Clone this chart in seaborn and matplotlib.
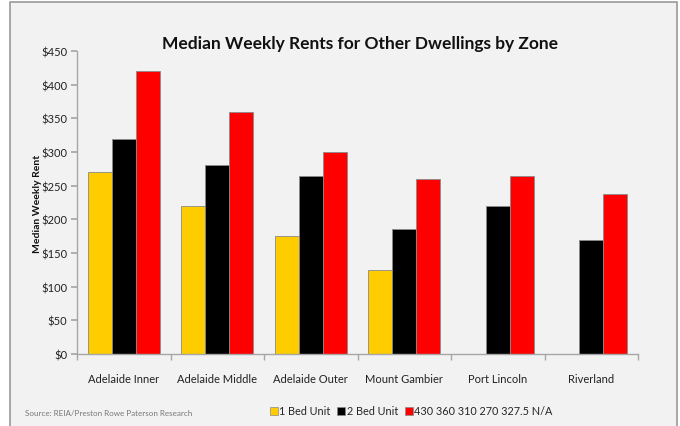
import numpy as np
import pandas as pd
import matplotlib
matplotlib.use("Agg")
import matplotlib.pyplot as plt
import seaborn as sns
from matplotlib.patches import Rectangle
from matplotlib.lines import Line2D
from matplotlib.ticker import MultipleLocator, FuncFormatter

zones = ["Adelaide Inner", "Adelaide Middle", "Adelaide Outer", "Mount Gambier", "Port Lincoln", "Riverland"]
series = ["1 Bed Unit", "2 Bed Unit", "430 360 310 270 327.5 N/A"]
one_bed = [270, 220, 175, 125, np.nan, np.nan]
two_bed = [320, 280, 265, 185, 220, 170]
three_bed = [420, 360, 300, 260, 265, 237]
colors = ["#FFCC00", "#000000", "#FF0000"]

rows = []
for s, vals in zip(series, [one_bed, two_bed, three_bed]):
    for z, v in zip(zones, vals):
        rows.append({"Zone": z, "Series": s, "Rent": v})
df = pd.DataFrame(rows)

sns.set_theme(style="white")
plt.rcParams['font.family'] = ['Lato', 'DejaVu Sans']

fig = plt.figure(figsize=(6.8, 4.27), dpi=100, facecolor="white")
fig.patches.append(Rectangle((10/680, -0.01), 667/680, 1 - 3/427 + 0.01, transform=fig.transFigure,
                             facecolor="#f2f2f2", edgecolor="#9a9a9a", linewidth=1.2, zorder=-10))
ax = fig.add_axes([77/680, 1 - 355/427, 561/680, (355 - 52)/427])
ax.set_facecolor("#f2f2f2")

sns.barplot(data=df, x="Zone", y="Rent", hue="Series", palette=colors, ax=ax, saturation=1,
            width=0.77, edgecolor="#8a8a8a", linewidth=0.6, legend=False, errorbar=None)

ax.set_ylim(0, 450)
ax.set_xlim(-0.5, 5.5)
ax.yaxis.set_major_locator(MultipleLocator(50))
ax.yaxis.set_major_formatter(FuncFormatter(lambda v, p: f"${int(v)}"))
for sp in ["top", "right"]:
    ax.spines[sp].set_visible(False)
for sp in ["left", "bottom"]:
    ax.spines[sp].set_color("#a6a6a6")
    ax.spines[sp].set_linewidth(1.0)
ax.tick_params(axis="y", which="major", left=True, length=4, color="#a6a6a6", labelsize=8, pad=3, labelcolor="#222222")
ax.tick_params(axis="x", which="major", bottom=False, labelsize=8, pad=8, labelcolor="#222222")
ax.set_xticks(np.arange(-0.5, 6.0, 1.0), minor=True)
ax.tick_params(axis="x", which="minor", bottom=True, length=4, color="#a6a6a6")
ax.set_xlabel("")
ax.set_ylabel("Median Weekly Rent", fontsize=7.5, fontweight="bold", labelpad=6, color="#111111")
ax.yaxis.set_label_coords(-35/561, 0.5)

fig.text(360/680, 1 - 44/427, "Median Weekly Rents for Other Dwellings by Zone", ha="center", va="center",
         fontsize=12.5, fontweight="bold", color="#111111")
fig.text(25/680, 1 - 414/427, "Source: REIA/Preston Rowe Paterson Research", ha="left", va="center",
         fontsize=5.8, color="#777777")

handles = [Line2D([0], [0], marker="s", linestyle="none", markersize=5.5, markerfacecolor=c,
                  markeredgecolor="#8a8a8a", markeredgewidth=0.5) for c in colors]
fig.legend(handles, series, loc="center", bbox_to_anchor=(411/680, 1 - 412/427), ncol=3, frameon=False,
           fontsize=7.8, handletextpad=0.1, columnspacing=0.6, handlelength=0.8, borderpad=0)

fig.savefig("out.png", dpi=100, facecolor=fig.get_facecolor())
